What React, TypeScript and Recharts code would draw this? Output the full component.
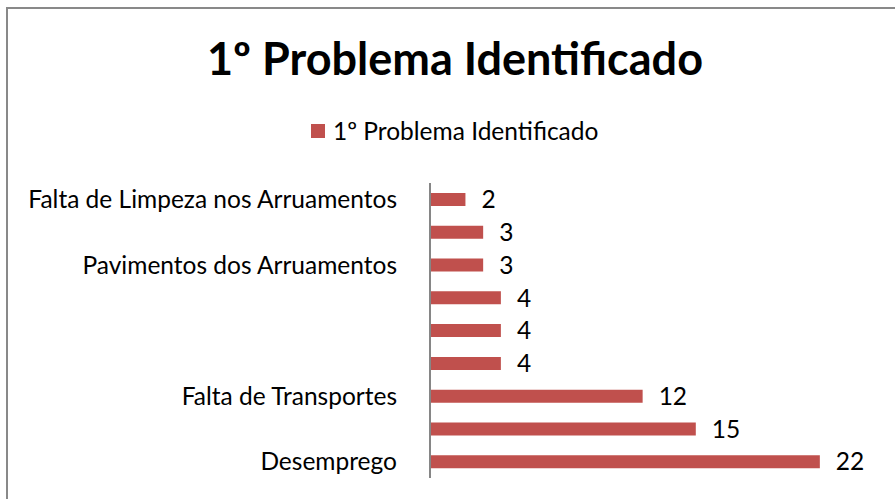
import { Bar, BarChart, LabelList, XAxis, YAxis } from 'recharts'

const categories = [
  'Falta de Limpeza nos Arruamentos',
  '',
  'Pavimentos dos Arruamentos',
  '',
  '',
  '',
  'Falta de Transportes',
  '',
  'Desemprego',
]
const values = [2, 3, 3, 4, 4, 4, 12, 15, 22]
const seriesName = '1º Problema Identificado'
const title = '1º Problema Identificado'

const data = categories.map((name, i) => ({ idx: i, name, value: values[i] }))

const font = 'Lato, "Open Sans", sans-serif'
const barColor = '#C0504D'
const textSize = 24.5

export default function App() {
  return (
    <div style={{ position: 'absolute', left: 0, top: 0, width: 895, height: 499, overflow: 'hidden', background: '#fff', fontFamily: font }}>
      <div
        style={{
          position: 'absolute',
          left: 6,
          top: 7,
          width: 920,
          height: 520,
          border: '2px solid #898989',
          boxSizing: 'border-box',
        }}
      />
      <div
        style={{
          position: 'absolute',
          left: 0,
          top: 36,
          width: 910,
          textAlign: 'center',
          fontSize: 45,
          lineHeight: '45px',
          fontWeight: 700,
          color: '#000',
        }}
      >
        {title}
      </div>
      <div
        style={{
          position: 'absolute',
          left: 311,
          top: 116,
          height: 30,
          display: 'flex',
          alignItems: 'center',
          fontSize: textSize,
          lineHeight: '30px',
          color: '#000',
        }}
      >
        <span style={{ width: 14, height: 14, background: barColor, display: 'inline-block', marginRight: 8 }} />
        {seriesName}
      </div>
      <div style={{ position: 'absolute', left: 0, top: 0 }}>
        <BarChart
          width={895}
          height={499}
          data={data}
          layout="vertical"
          margin={{ top: 183, right: 22, bottom: 21, left: 0 }}
          barSize={13}
        >
          <XAxis type="number" domain={[0, 25]} hide />
          <YAxis
            type="category"
            dataKey="idx"
            width={430}
            interval={0}
            tickFormatter={(i: number) => categories[i]}
            tickLine={false}
            tickSize={0}
            tickMargin={33}
            axisLine={{ stroke: '#868686', strokeWidth: 2 }}
            tick={{ fill: '#000', fontSize: textSize, fontFamily: font }}
          />
          <Bar dataKey="value" fill={barColor} isAnimationActive={false}>
            <LabelList dataKey="value" position="right" offset={16} fill="#000" fontSize={textSize} fontFamily={font} />
          </Bar>
        </BarChart>
      </div>
    </div>
  )
}
